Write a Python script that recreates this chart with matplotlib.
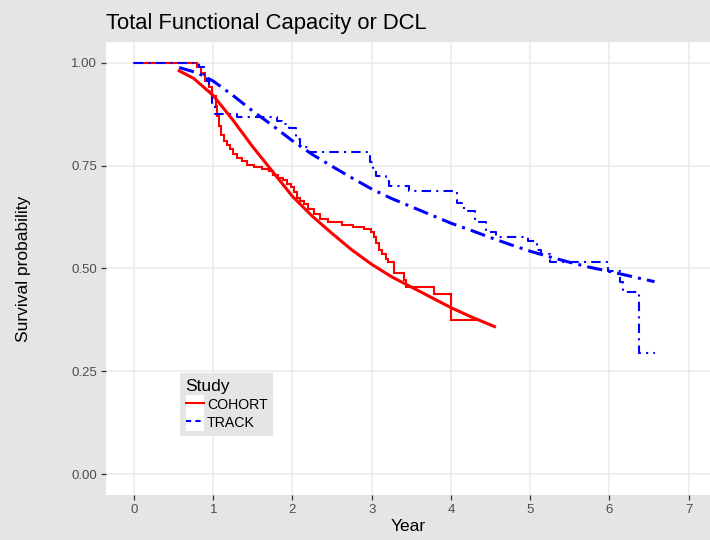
import matplotlib
matplotlib.use("Agg")
import matplotlib.pyplot as plt
from matplotlib.lines import Line2D
from matplotlib.patches import Rectangle
from matplotlib.legend_handler import HandlerLine2D

plt.rcParams['font.family'] = ['Liberation Sans', 'DejaVu Sans']

# ---------------- data ----------------
title = "Total Functional Capacity or DCL"
x_label = "Year"
y_label = "Survival probability"
x_ticks = [0, 1, 2, 3, 4, 5, 6, 7]
y_ticks = [0.00, 0.25, 0.50, 0.75, 1.00]
y_tick_labels = ["0.00", "0.25", "0.50", "0.75", "1.00"]
legend_title = "Study"
studies = ["COHORT", "TRACK"]

# Kaplan-Meier steps, COHORT
cohort_km_t = [0.00, 0.80, 0.85, 0.90, 0.95, 0.99, 1.03, 1.05, 1.07, 1.10, 1.13, 1.17,
               1.21, 1.25, 1.30, 1.36, 1.43, 1.52, 1.62, 1.70, 1.76, 1.82, 1.88, 1.93,
               1.98, 2.02, 2.06, 2.10, 2.15, 2.20, 2.27, 2.35, 2.45, 2.62, 2.76, 2.90,
               2.99, 3.03, 3.05, 3.09, 3.13, 3.18, 3.20, 3.28, 3.41, 3.43, 3.78, 4.00]
cohort_km_s = [1.000, 0.990, 0.975, 0.955, 0.940, 0.920, 0.895, 0.870, 0.845, 0.825, 0.810, 0.800,
               0.790, 0.778, 0.768, 0.760, 0.752, 0.746, 0.741, 0.737, 0.727, 0.720, 0.714, 0.705,
               0.697, 0.685, 0.672, 0.664, 0.656, 0.645, 0.632, 0.620, 0.612, 0.606, 0.600, 0.595,
               0.588, 0.576, 0.563, 0.546, 0.534, 0.522, 0.515, 0.490, 0.473, 0.456, 0.437, 0.376]
cohort_km_end = 4.32

# Kaplan-Meier steps, TRACK
track_km_t = [0.00, 0.82, 0.88, 0.92, 0.95, 0.98, 1.02, 1.30, 1.80, 1.87, 1.95, 2.04, 2.10,
              2.20, 2.94, 2.98, 3.01, 3.05, 3.18, 3.22, 3.47, 4.08, 4.17, 4.30, 4.44, 4.57,
              4.97, 5.08, 5.14, 5.25, 5.98, 6.13, 6.17, 6.38]
track_km_s = [1.000, 0.990, 0.970, 0.956, 0.930, 0.900, 0.876, 0.868, 0.858, 0.850, 0.840, 0.815, 0.795,
              0.783, 0.773, 0.758, 0.741, 0.725, 0.712, 0.700, 0.688, 0.660, 0.640, 0.612, 0.588, 0.576,
              0.566, 0.545, 0.534, 0.515, 0.493, 0.468, 0.444, 0.295]
track_km_end = 6.57

# fitted (parametric) survival curves
cohort_fit_t = [0.57, 0.75, 1.00, 1.25, 1.50, 1.75, 2.00, 2.25, 2.50, 2.75, 3.00, 3.25,
                3.50, 3.75, 4.00, 4.25, 4.55]
cohort_fit_s = [0.980, 0.962, 0.920, 0.860, 0.795, 0.735, 0.675, 0.627, 0.585, 0.545, 0.510, 0.480,
                0.455, 0.430, 0.405, 0.383, 0.359]
track_fit_t = [0.57, 0.80, 1.00, 1.25, 1.50, 1.75, 2.00, 2.25, 2.50, 2.75, 3.00, 3.25, 3.50,
               3.75, 4.00, 4.25, 4.50, 4.75, 5.00, 5.25, 5.50, 5.75, 6.00, 6.25, 6.57]
track_fit_s = [0.988, 0.975, 0.955, 0.920, 0.882, 0.847, 0.810, 0.777, 0.748, 0.720, 0.693, 0.670, 0.650,
               0.630, 0.610, 0.593, 0.575, 0.558, 0.542, 0.528, 0.515, 0.503, 0.493, 0.482, 0.468]

# ---------------- style ----------------
RED = "#FF0000"
BLUE = "#0000FF"
BG = "#E5E5E5"
GRID = "#EBEBEB"

W, H = 710, 540
fig = plt.figure(figsize=(W / 100, H / 100), dpi=100, facecolor=BG)
pl, pr, pt, pb = 106, 710, 42, 495
ax = fig.add_axes([pl / W, 1 - pb / H, (pr - pl) / W, (pb - pt) / H])
ax.set_facecolor("white")
for s in ax.spines.values():
    s.set_visible(False)

ax.set_xlim(-0.354, 7.27)
ax.set_ylim(-0.05, 1.05)
ax.set_xticks(x_ticks)
ax.set_yticks(y_ticks)
ax.set_yticklabels(y_tick_labels)
ax.grid(True, color=GRID, linewidth=1.1)
ax.set_axisbelow(True)
ax.tick_params(axis="both", colors="#333333", labelcolor="#4D4D4D", labelsize=9.5,
               length=3.5, width=0.9, pad=3)

def km_xy(t, s, end):
    return list(t) + [end], list(s) + [s[-1]]

x, y = km_xy(cohort_km_t, cohort_km_s, cohort_km_end)
ax.step(x, y, where="post", color=RED, lw=1.5, solid_joinstyle="miter")
x, y = km_xy(track_km_t, track_km_s, track_km_end)
ax.step(x, y, where="post", color=BLUE, lw=1.5, linestyle=(0, (4.5, 2.5, 1, 2.5)))

ax.plot(cohort_fit_t, cohort_fit_s, color=RED, lw=2.2)
ax.plot(track_fit_t, track_fit_s, color=BLUE, lw=2.2, linestyle=(0, (5, 2, 1, 2)))

ax.set_xlabel(x_label, fontsize=12.5, color="black", labelpad=2)
ax.set_ylabel(y_label, fontsize=12.5, color="black")
ax.yaxis.set_label_coords((31 - pl) / (pr - pl), 0.5)

fig.text(pl / W, 1 - 29 / H, title, fontsize=15.8, color="black", ha="left", va="baseline")


class KeyHandler(HandlerLine2D):
    def create_artists(self, legend, orig_handle, xdescent, ydescent, width, height, fontsize, trans):
        rect = Rectangle((-xdescent, -ydescent - 1.5), width, height + 3, facecolor="white",
                         edgecolor="none", transform=trans)
        arts = super().create_artists(legend, orig_handle, xdescent, ydescent, width, height, fontsize, trans)
        return [rect] + list(arts)


handles = [Line2D([], [], color=RED, lw=1.5),
           Line2D([], [], color=BLUE, lw=1.5, linestyle=(0, (2.5, 2)))]
leg = ax.legend(handles, studies, title=legend_title, loc="upper left",
                bbox_to_anchor=(180 / W, 1 - 373 / H), bbox_transform=fig.transFigure,
                borderaxespad=0,
                frameon=True, facecolor=BG, edgecolor="none", fancybox=False, framealpha=1,
                fontsize=10.2, title_fontsize=12.5, handlelength=1.3, handleheight=1.1,
                handletextpad=0.2, labelspacing=0.25, borderpad=0.4, alignment="left",
                handler_map={Line2D: KeyHandler()})
leg.get_title().set_color("black")

fig.savefig("out.png", dpi=100, facecolor=BG)
